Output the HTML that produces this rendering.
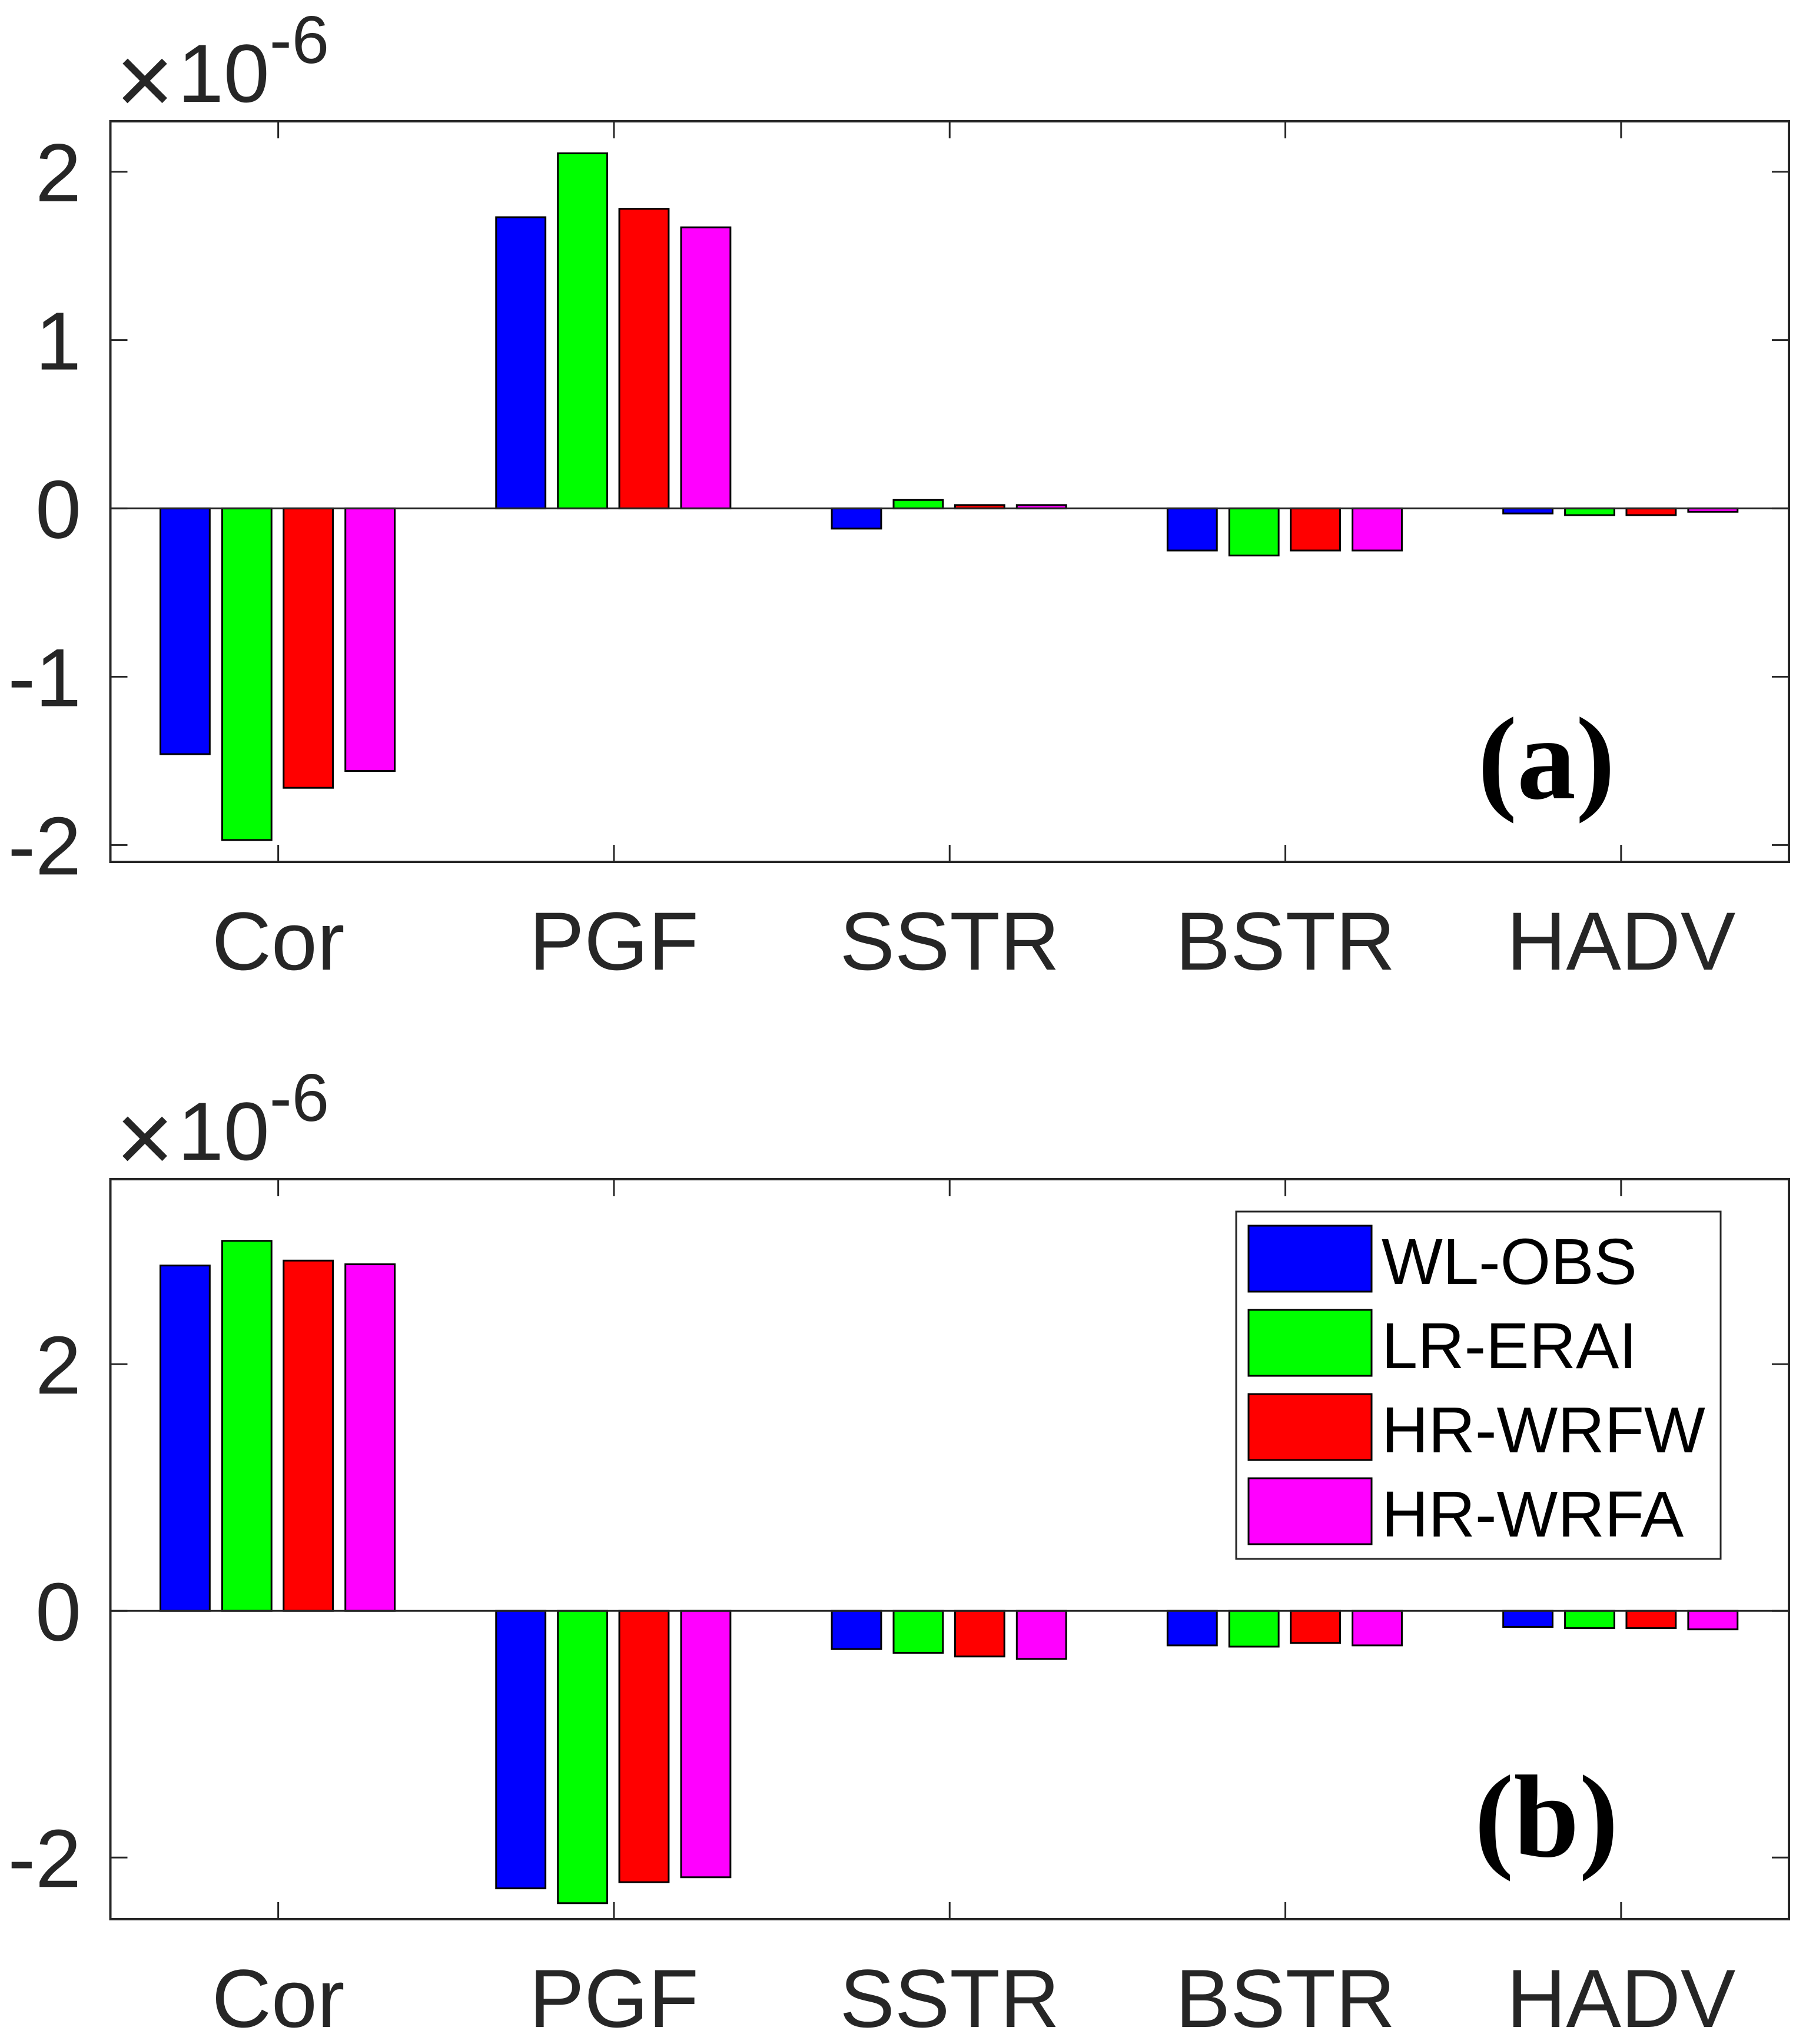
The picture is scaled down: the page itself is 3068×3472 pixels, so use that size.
<!DOCTYPE html>
<html><head><meta charset="utf-8"><style>
html,body{margin:0;padding:0;background:#fff}
svg{display:block}
text{font-family:"Liberation Sans",Arial,sans-serif;fill:#262626}
</style></head><body>
<svg id="chart" width="3068" height="3472" viewBox="0 0 3068 3472" xmlns="http://www.w3.org/2000/svg"></svg>
<script>
const categories = ["Cor","PGF","SSTR","BSTR","HADV"];
const seriesNames = ["WL-OBS","LR-ERAI","HR-WRFW","HR-WRFA"];
const seriesColors = ["#0000ff","#00ff00","#ff0000","#ff00ff"];
const panelAObs  = [-1.46, 1.73, -0.12, -0.25, -0.03];
const panelAErai = [-1.97, 2.11,  0.05, -0.28, -0.04];
const panelAWrfw = [-1.66, 1.78,  0.02, -0.25, -0.04];
const panelAWrfa = [-1.56, 1.67,  0.02, -0.25, -0.02];
const panelBObs  = [2.80, -2.25, -0.31, -0.28, -0.13];
const panelBErai = [3.00, -2.37, -0.34, -0.29, -0.14];
const panelBWrfw = [2.84, -2.20, -0.37, -0.26, -0.14];
const panelBWrfa = [2.81, -2.16, -0.39, -0.28, -0.15];
const panelATicks = [-2,-1,0,1,2];
const panelBTicks = [-2,0,2];

const NS="http://www.w3.org/2000/svg";
const svg=document.getElementById('chart');
function mk(tag,attrs,parent){const e=document.createElementNS(NS,tag);for(const k in attrs)e.setAttribute(k,attrs[k]);(parent||svg).appendChild(e);return e;}

function panel(key,top,bottom,ymin,ymax,series,ticks,label,withLegend){
  const L=187.5,R=3039;
  const g=mk('g',{});
  
  
  const xs=i=>L+(i+0.5)*(R-L)/categories.length;
  const ys=v=>top+(ymax-v)/(ymax-ymin)*(bottom-top);
  const unit=(R-L)/categories.length;
  const offs=[-0.2775,-0.0935,0.0895,0.2735];
  const bw=0.147*unit;
  series.forEach((vals,s)=>{
    vals.forEach((v,i)=>{
      const cx=xs(i)+offs[s]*unit;
      const y0=ys(0),y1=ys(v);
      const r=mk('rect',{x:cx-bw/2,y:Math.min(y0,y1),width:bw,height:Math.abs(y1-y0),fill:seriesColors[s],stroke:'#000','stroke-width':3},g);
      
      
    });
  });
  const zl=mk('line',{x1:L,x2:R,y1:ys(0),y2:ys(0),stroke:'#262626','stroke-width':3},g);
  
  
  const box=mk('rect',{x:L,y:top,width:R-L,height:bottom-top,fill:'none',stroke:'#262626','stroke-width':4},g);
  
  
  ticks.forEach(t=>{
    const y=ys(t);
    mk('line',{x1:L,x2:L+29,y1:y,y2:y,stroke:'#262626','stroke-width':3},g);
    mk('line',{x1:R-29,x2:R,y1:y,y2:y,stroke:'#262626','stroke-width':3},g);
    const tx=mk('text',{x:138,y:y+50,'font-size':140,'text-anchor':'end'},g);
    tx.textContent=t<0?'-'+Math.abs(t):String(t);
    
    
  });
  categories.forEach((c,i)=>{
    const x=xs(i);
    mk('line',{x1:x,x2:x,y1:top,y2:top+29,stroke:'#262626','stroke-width':3},g);
    mk('line',{x1:x,x2:x,y1:bottom-29,y2:bottom,stroke:'#262626','stroke-width':3},g);
    const tx=mk('text',{x:x,y:bottom+183,'font-size':140,'text-anchor':'middle'},g);
    tx.textContent=c;
    
    
  });
  const mul=mk('text',{x:246,y:top-12,'font-size':170,'text-anchor':'middle'},g);
  mul.textContent='×';
  
  
  const ex=mk('text',{x:302,y:top-33,'font-size':140},g);
  
  
  ex.innerHTML='<tspan>10</tspan><tspan font-size="114" dy="-66">-6</tspan>';
  const pl=mk('text',{x:2627,y:top+1150,'font-size':200,'font-weight':'bold','text-anchor':'middle',style:'font-family:"Liberation Serif","Times New Roman",serif;fill:#000'},g);
  pl.textContent=label;
  
  
  if(withLegend){
    const lg=mk('g',{},g);
    
    
    mk('rect',{x:2100,y:2058,width:823,height:590,fill:'#fff',stroke:'#262626','stroke-width':3},lg);
    const rowY=[2082,2225,2368,2511];
    seriesNames.forEach((n,s)=>{
      const e=mk('g',{},lg);
      
      
      mk('rect',{x:2121,y:rowY[s],width:209,height:112,fill:seriesColors[s],stroke:'#000','stroke-width':3},e);
      const t=mk('text',{x:2347,y:rowY[s]+99,'font-size':110,style:'fill:#000'},e);
      t.textContent=n;
    });
  }
}
panel('a',206,1464,-2.1,2.3,[panelAObs,panelAErai,panelAWrfw,panelAWrfa],panelATicks,'(a)',false);
panel('b',2003,3260,-2.5,3.5,[panelBObs,panelBErai,panelBWrfw,panelBWrfa],panelBTicks,'(b)',true);
</script>
</body></html>
